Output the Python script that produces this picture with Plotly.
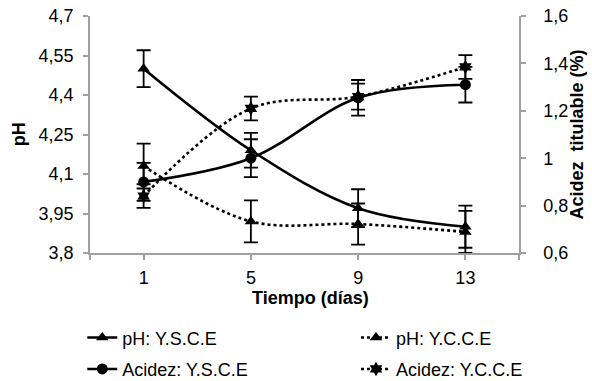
import plotly.graph_objects as go

# ---- data ----
dias = [1, 5, 9, 13]
ph_ysce = [4.50, 4.19, 3.97, 3.90]
ph_ysce_err = [0.07, 0.066, 0.072, 0.08]
ph_ycce = [4.13, 3.92, 3.91, 3.88]
ph_ycce_err = [0.085, 0.08, 0.078, 0.08]
ac_ysce = [0.90, 1.00, 1.255, 1.31]
ac_ysce_err = [0.08, 0.08, 0.075, 0.075]
ac_ycce = [0.84, 1.21, 1.26, 1.385]
ac_ycce_err = [0.05, 0.05, 0.055, 0.05]

ph_ticks = [3.8, 3.95, 4.1, 4.25, 4.4, 4.55, 4.7]
ph_ticktext = ["3,8", "3,95", "4,1", "4,25", "4,4", "4,55", "4,7"]
ac_ticks = [0.6, 0.8, 1.0, 1.2, 1.4, 1.6]
ac_ticktext = ["0,6", "0,8", "1", "1,2", "1,4", "1,6"]
x_ticks = [-1, 1, 5, 9, 13, 15]
x_ticktext = ["", "1", "5", "9", "13", ""]

FONT = "Liberation Sans, Arial, sans-serif"
AXC = "#a0a0a0"

def err(a):
    return dict(type="data", array=a, visible=True, color="black", thickness=1.8, width=7)

fig = go.Figure()
fig.add_trace(go.Scatter(x=dias, y=ph_ysce, name="pH: Y.S.C.E", mode="lines+markers",
                         line=dict(color="black", width=2.6, shape="spline", smoothing=1),
                         marker=dict(symbol="triangle-up", size=11, color="black"),
                         error_y=err(ph_ysce_err), yaxis="y",
                         legend="legend", legendgroup="a"))
fig.add_trace(go.Scatter(x=dias, y=ph_ycce, name="pH: Y.C.C.E", mode="lines+markers",
                         line=dict(color="black", width=2.6, dash="dot", shape="spline", smoothing=1),
                         marker=dict(symbol="triangle-up", size=11, color="black"),
                         error_y=err(ph_ycce_err), yaxis="y",
                         legend="legend2", legendgroup="c"))
fig.add_trace(go.Scatter(x=dias, y=ac_ysce, name="Acidez: Y.S.C.E", mode="lines+markers",
                         line=dict(color="black", width=2.6, shape="spline", smoothing=1),
                         marker=dict(symbol="circle", size=11, color="black"),
                         error_y=err(ac_ysce_err), yaxis="y2",
                         legend="legend", legendgroup="b"))
fig.add_trace(go.Scatter(x=dias, y=ac_ycce, name="Acidez: Y.C.C.E", mode="lines+markers",
                         line=dict(color="black", width=2.6, dash="dot", shape="spline", smoothing=1),
                         marker=dict(symbol="hexagram", size=11, color="black"),
                         error_y=err(ac_ycce_err), yaxis="y2",
                         legend="legend2", legendgroup="d"))

leg_common = dict(orientation="v", yanchor="top", xanchor="left", tracegroupgap=5,
                  font=dict(family=FONT, size=18, color="black"),
                  bgcolor="rgba(0,0,0,0)")

fig.update_layout(
    width=592, height=381,
    margin=dict(l=90, r=73, t=16, b=128, autoexpand=False),
    paper_bgcolor="white", plot_bgcolor="white",
    font=dict(family=FONT, size=18, color="black"),
    showlegend=True,
    legend=dict(x=-0.018, y=-0.28, **leg_common),
    legend2=dict(x=0.62, y=-0.28, **leg_common),
    xaxis=dict(range=[-1, 15], tickmode="array", tickvals=x_ticks, ticktext=x_ticktext,
               showgrid=False, zeroline=False, showline=True, linecolor=AXC, linewidth=1.5,
               ticks="outside", ticklen=5, tickcolor=AXC, tickwidth=1.5,
               tickfont=dict(size=18), ticklabelstandoff=3, ticklabeloverflow="allow"),
    yaxis=dict(range=[3.8, 4.7], tickmode="array", tickvals=ph_ticks, ticktext=ph_ticktext,
               showgrid=False, zeroline=False, showline=True, linecolor=AXC, linewidth=1.5,
               ticks="outside", ticklen=5, tickcolor=AXC, tickwidth=1.5,
               tickfont=dict(size=18), ticklabelstandoff=6, ticklabeloverflow="allow"),
    yaxis2=dict(range=[0.6, 1.6], tickmode="array", tickvals=ac_ticks, ticktext=ac_ticktext,
                overlaying="y", side="right",
                showgrid=False, zeroline=False, showline=True, linecolor=AXC, linewidth=1.5,
                ticks="outside", ticklen=5, tickcolor=AXC, tickwidth=1.5,
                tickfont=dict(size=18), ticklabelstandoff=14, ticklabeloverflow="allow"),
    annotations=[
        dict(text="<b>Tiempo (días)</b>", xref="paper", yref="paper", x=0.515, y=-0.19,
             xanchor="center", yanchor="middle", showarrow=False, font=dict(size=18)),
        dict(text="<b>pH</b>", xref="paper", yref="paper", x=-0.166, y=0.5, textangle=-90,
             xanchor="center", yanchor="middle", showarrow=False, font=dict(size=18)),
        dict(text="<b>Acidez  titulable (%)</b>", xref="paper", yref="paper", x=1.135, y=0.5,
             textangle=-90, xanchor="center", yanchor="middle", showarrow=False,
             font=dict(size=18)),
    ],
)

fig.write_html("out.html", config={"displayModeBar": False},
               post_script="document.body.style.margin='0px';")
